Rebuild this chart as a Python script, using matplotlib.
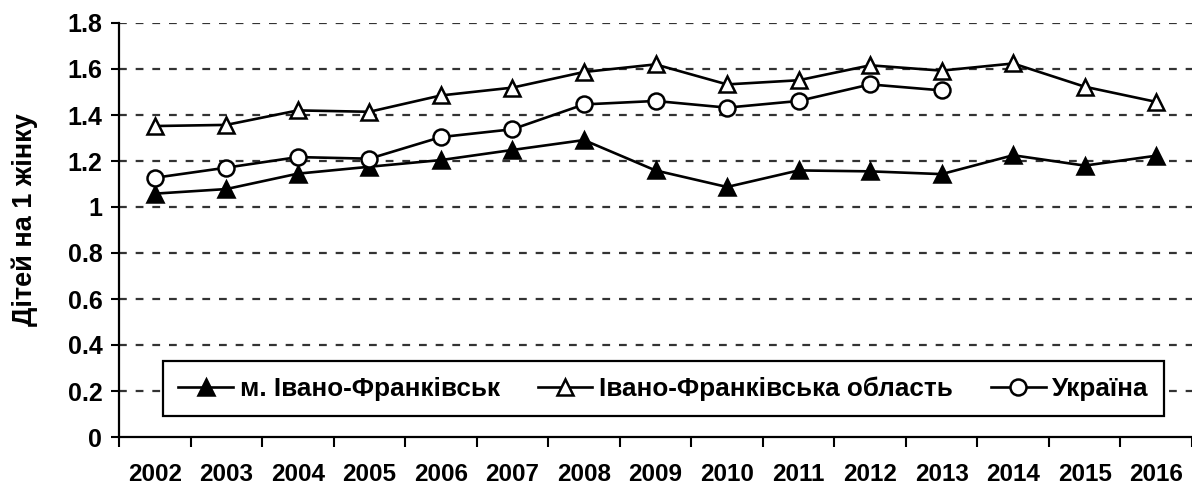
import numpy as np
import matplotlib
matplotlib.use("Agg")
import matplotlib.pyplot as plt

years = ["2002", "2003", "2004", "2005", "2006", "2007", "2008", "2009",
         "2010", "2011", "2012", "2013", "2014", "2015", "2016"]
city = [1.058, 1.078, 1.145, 1.175, 1.204, 1.248, 1.291, 1.159,
        1.087, 1.159, 1.155, 1.143, 1.225, 1.180, 1.223]
oblast = [1.352, 1.357, 1.420, 1.414, 1.485, 1.519, 1.587, 1.620,
          1.533, 1.551, 1.616, 1.593, 1.624, 1.523, 1.457]
ukraine = [1.127, 1.171, 1.217, 1.210, 1.304, 1.338, 1.446, 1.461,
           1.432, 1.461, 1.533, 1.507, np.nan, np.nan, np.nan]
series_names = ["м. Івано-Франківськ", "Івано-Франківська область", "Україна"]
yticks = [0, 0.2, 0.4, 0.6, 0.8, 1.0, 1.2, 1.4, 1.6, 1.8]
ytick_labels = ["0", "0.2", "0.4", "0.6", "0.8", "1", "1.2", "1.4", "1.6", "1.8"]
ylabel = "Дітей на 1 жінку"

plt.rcParams['font.family'] = ['Liberation Sans', 'DejaVu Sans']
plt.rcParams['font.weight'] = 'bold'

W, H = 1192, 486
fig = plt.figure(figsize=(W / 100, H / 100), dpi=100)
left, right, top, bottom = 119, 1192, 23, 437
ax = fig.add_axes([left / W, (H - bottom) / H, (right - left) / W, (bottom - top) / H])

x = np.arange(len(years))
lw, ms, mew = 1.9, 11.5, 1.8
ax.plot(x, city, color='black', lw=lw, marker='^', ms=ms, mfc='black', mec='black',
        mew=mew, label=series_names[0], zorder=3)
ax.plot(x, oblast, color='black', lw=lw, marker='^', ms=ms, mfc='white', mec='black',
        mew=mew, label=series_names[1], zorder=3)
ax.plot(x, ukraine, color='black', lw=lw, marker='o', ms=ms, mfc='white', mec='black',
        mew=mew, label=series_names[2], zorder=3)

ax.set_ylim(0, 1.8)
ax.set_xlim(-0.5, -0.5 + (right - left) / 72.0)
ax.set_yticks(yticks)
ax.set_yticklabels(ytick_labels, fontsize=18, fontweight='bold')
ax.set_xticks(x)
ax.set_xticklabels(years, fontsize=17.5, fontweight='bold')
ax.set_xticks(np.arange(len(years) + 1) - 0.5, minor=True)
ax.tick_params(axis='x', which='major', length=0, pad=19)
ax.tick_params(axis='x', which='minor', length=7, width=1.5, direction='out')
ax.tick_params(axis='y', which='major', length=6, width=1.5, direction='out', pad=6)

for y in yticks[1:]:
    ax.axhline(y, color='#333333', lw=1.6, linestyle=(0, (3.5, 4)), zorder=1)

for s in ['top', 'right']:
    ax.spines[s].set_visible(False)
for s in ['left', 'bottom']:
    ax.spines[s].set_linewidth(1.6)
    ax.spines[s].set_color('black')

ax.set_ylabel(ylabel, fontsize=19.5, fontweight='bold')
ax.yaxis.set_label_coords(-(119 - 38) / (right - left), (437 - 220) / (bottom - top),
                          transform=ax.transAxes)

leg = ax.legend(loc='center', bbox_to_anchor=(663.5 / W, 1 - 388.5 / H),
                bbox_transform=fig.transFigure, ncol=3, frameon=True,
                fancybox=False, edgecolor='black', handlelength=2.1,
                handletextpad=0.25, columnspacing=1.45, borderpad=0.6,
                prop={'weight': 'bold', 'size': 18.8})
leg.get_frame().set_linewidth(1.6)
leg.get_frame().set_alpha(1)
leg.set_zorder(5)

fig.savefig("out.png", dpi=100)
